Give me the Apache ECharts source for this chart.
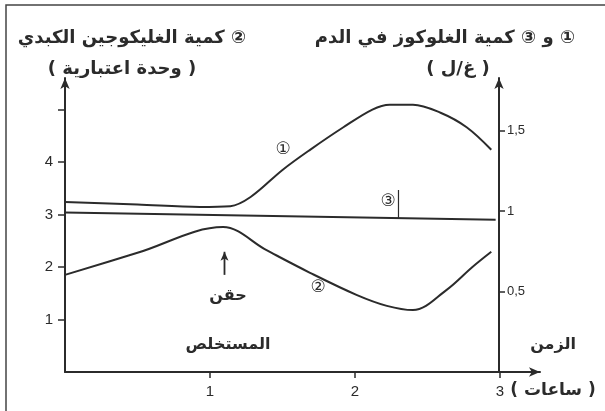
<!DOCTYPE html>
<html>
<head>
<meta charset="utf-8">
<script src="https://cdn.jsdelivr.net/npm/echarts@6/dist/echarts.min.js"></script>
<style>
  html, body { margin: 0; padding: 0; background: #fff; }
  #chart { width: 605px; height: 411px; }
</style>
</head>
<body>
<div id="chart"></div>
<script>
// curve 1 : blood glucose (g/L), right axis
const hours1 = [0, 0.5, 0.93, 1.14, 1.28, 1.5, 1.69, 1.92, 2.12, 2.24, 2.4, 2.59, 2.77, 2.94];
const glucose1 = [1.056, 1.04, 1.025, 1.03, 1.087, 1.255, 1.38, 1.52, 1.63, 1.66, 1.66, 1.61, 1.52, 1.38];
// curve 2 : liver glycogen (arbitrary units), left axis
const hours2 = [0, 0.5, 1.09, 1.39, 1.69, 2.01, 2.22, 2.4, 2.63, 2.81, 2.94];
const glycogen2 = [1.85, 2.27, 2.76, 2.32, 1.89, 1.47, 1.26, 1.18, 1.56, 2.0, 2.29];
// curve 3 : blood glucose, right axis
const hours3 = [0, 2.97];
const glucose3 = [0.99, 0.945];
// small mark beside label 3 and injection arrow
const mark3 = [[2.3, 0.955], [2.3, 1.13]];
const injection = [[1.1, 1.85], [1.1, 2.29]];

const leftTicks = [1, 2, 3, 4, 5];
const leftLabels = [1, 2, 3, 4];
const rightTicks = [0.5, 1, 1.5];
const timeTicks = [1, 2, 3];

const ink = '#2b2b2b';
const font = 'DejaVu Sans';
const RLM = '\u200F';

function zip(xs, ys) {
  return xs.map((x, i) => [x, ys[i]]);
}

function text(x, y, str, size, weight) {
  return {
    type: 'text', x: x, y: y,
    style: {
      text: str, fill: ink, font: (weight || 'bold') + ' ' + size + 'px "' + font + '"',
      textAlign: 'center', textVerticalAlign: 'middle'
    }
  };
}

let myChart = echarts.init(document.getElementById('chart'));
let option = {
  backgroundColor: '#fff',
  animation: false,
  grid: { left: 65, right: 65, top: 78, bottom: 39, outerBoundsMode: 'none' },
  xAxis: {
    type: 'value', min: 0, max: 3.276,
    axisLine: { lineStyle: { color: ink, width: 2 }, symbol: ['none', 'arrow'], symbolSize: [7, 11] },
    axisTick: { customValues: timeTicks, length: 6, lineStyle: { color: ink, width: 1.5 } },
    axisLabel: { customValues: timeTicks, color: ink, fontSize: 15, fontFamily: 'Liberation Sans', margin: 12 },
    splitLine: { show: false }
  },
  yAxis: [
    {
      type: 'value', min: 0, max: 5.6, position: 'left',
      axisLine: { show: true, lineStyle: { color: ink, width: 2 }, symbol: ['none', 'arrow'], symbolSize: [7, 11] },
      axisTick: { show: true, customValues: leftTicks, length: 7, lineStyle: { color: ink, width: 1.5 } },
      axisLabel: { customValues: leftLabels, color: ink, fontSize: 15, fontFamily: 'Liberation Sans', margin: 12 },
      splitLine: { show: false }
    },
    {
      type: 'value', min: 0, max: 1.826, position: 'right', offset: -41,
      axisLine: { show: true, lineStyle: { color: ink, width: 2 }, symbol: ['none', 'arrow'], symbolSize: [7, 11] },
      axisTick: { show: true, customValues: rightTicks, length: 6, lineStyle: { color: ink, width: 1.5 } },
      axisLabel: {
        customValues: rightTicks, color: ink, fontSize: 13, fontFamily: 'Liberation Sans', margin: 8,
        formatter: v => String(v).replace('.', ',')
      },
      splitLine: { show: false }
    }
  ],
  series: [
    {
      name: '1', type: 'line', yAxisIndex: 1, data: zip(hours1, glucose1),
      smooth: 0.35, showSymbol: false, lineStyle: { color: ink, width: 2 }
    },
    {
      name: '2', type: 'line', yAxisIndex: 0, data: zip(hours2, glycogen2),
      smooth: 0.35, showSymbol: false, lineStyle: { color: ink, width: 2 }
    },
    {
      name: '3', type: 'line', yAxisIndex: 1, data: zip(hours3, glucose3),
      showSymbol: false, lineStyle: { color: ink, width: 2 }
    },
    {
      name: 'mark3', type: 'line', yAxisIndex: 1, data: mark3,
      showSymbol: false, lineStyle: { color: ink, width: 1.2 }
    },
    {
      name: 'injection', type: 'line', yAxisIndex: 0,
      data: [
        { value: injection[0], symbol: 'none' },
        { value: injection[1], symbol: 'arrow', symbolSize: [6, 9] }
      ],
      itemStyle: { color: ink }, lineStyle: { color: ink, width: 1.8 }
    }
  ],
  graphic: [
    { type: 'rect', shape: { x: 6, y: 5, width: 640, height: 440 }, style: { fill: 'none', stroke: '#444', lineWidth: 1.5 } },
    text(132, 38, RLM + '② كمية الغليكوجين الكبدي' + RLM, 18),
    text(122, 69, RLM + '( وحدة اعتبارية )' + RLM, 18),
    text(445, 38, RLM + '① و ③ كمية الغلوكوز في الدم' + RLM, 18),
    text(458, 69, RLM + '( غ/ل )' + RLM, 18),
    text(283, 150, '①', 17, 'normal'),
    text(318, 288, '②', 17, 'normal'),
    text(388, 202, '③', 17, 'normal'),
    text(228, 296, 'حقن', 16),
    text(228, 345, 'المستخلص', 16),
    text(553, 345, 'الزمن', 16),
    text(553, 391, RLM + '( ساعات )' + RLM, 17)
  ]
};
myChart.setOption(option);
</script>
</body>
</html>
